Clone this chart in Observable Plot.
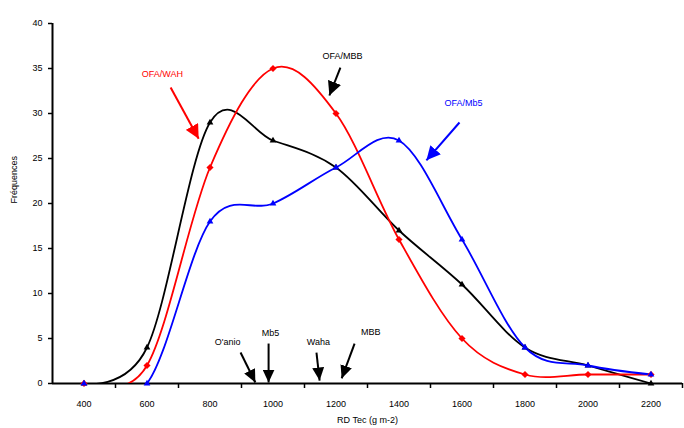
<!DOCTYPE html>
<html><head><meta charset="utf-8">
<script src="https://cdn.jsdelivr.net/npm/d3@7"></script>
<script src="https://cdn.jsdelivr.net/npm/@observablehq/plot@0.6"></script>
<style>body{margin:0;background:#fff;} #chart svg{display:block;}</style>
</head><body><div id="chart"></div>
<script>
// categories (RD Tec, g m-2)
const rdTec = [400, 600, 800, 1000, 1200, 1400, 1600, 1800, 2000, 2200];
// series (frequencies)
const ofaMBB = [0, 4, 29, 27, 24, 17, 11, 4, 2, 0];
const ofaWAH = [0, 2, 24, 35, 30, 16, 5, 1, 1, 1];
const ofaMb5 = [0, 0, 18, 20, 24, 27, 16, 4, 2, 1];
// ticks
const yTicks = [0, 5, 10, 15, 20, 25, 30, 35, 40];
const xTickLabels = [400, 600, 800, 1000, 1200, 1400, 1600, 1800, 2000, 2200];
const xTickMarks = [500, 700, 900, 1100, 1300, 1500, 1700, 1900, 2100, 2300];

// annotations (data units)
const seriesLabels = ["OFA/WAH", "OFA/MBB", "OFA/Mb5"];
const seriesLabelX = [649, 1221, 1605];
const seriesLabelY = [34.4, 36.4, 31.1];
const seriesColors = ["#ff0000", "#000000", "#0000ff"];
const seriesArrowX1 = [675, 1214, 1592];
const seriesArrowY1 = [32.9, 35.1, 29.0];
const seriesArrowX2 = [764, 1179, 1487];
const seriesArrowY2 = [27.2, 32.0, 24.8];

const siteLabels = ["O'anio", "Mb5", "Waha", "MBB"];
const siteLabelX = [856, 992, 1144, 1310];
const siteLabelY = [4.56, 5.56, 4.56, 5.67];
const siteArrowX1 = [897, 986, 1138, 1259];
const siteArrowY1 = [3.44, 4.44, 3.44, 4.44];
const siteArrowX2 = [944, 986, 1148, 1218];
const siteArrowY2 = [0.11, 0.11, 0.33, 0.56];

const series = [
  {name: "OFA/MBB", values: ofaMBB, color: "#000000", symbol: "triangle2"},
  {name: "OFA/WAH", values: ofaWAH, color: "#ff0000", symbol: "diamond2"},
  {name: "OFA/Mb5", values: ofaMb5, color: "#0000ff", symbol: "triangle2"}
];
const rows = series.flatMap(s => rdTec.map((x, i) => ({x, y: s.values[i], name: s.name, color: s.color, symbol: s.symbol})));

const seriesAnno = seriesLabels.map((t, i) => ({t, x: seriesLabelX[i], y: seriesLabelY[i], c: seriesColors[i],
  x1: seriesArrowX1[i], y1: seriesArrowY1[i], x2: seriesArrowX2[i], y2: seriesArrowY2[i]}));
const siteAnno = siteLabels.map((t, i) => ({t, x: siteLabelX[i], y: siteLabelY[i],
  x1: siteArrowX1[i], y1: siteArrowY1[i], x2: siteArrowX2[i], y2: siteArrowY2[i]}));

const head = (len, wid) => (color, context) => {
  const m = d3.create("svg:marker")
    .attr("viewBox", `0 ${-wid/2} ${len} ${wid}`)
    .attr("refX", len).attr("refY", 0)
    .attr("markerUnits", "userSpaceOnUse")
    .attr("markerWidth", len).attr("markerHeight", wid)
    .attr("orient", "auto")
    .attr("fill", color).attr("stroke", "none");
  m.append("path").attr("d", `M0,${-wid/2}L${len},0L0,${wid/2}Z`);
  return m.node();
};

const font = "'Liberation Sans', Arial, sans-serif";

const chart = Plot.plot({
  width: 684, height: 428,
  marginLeft: 52, marginRight: 2, marginTop: 23, marginBottom: 45,
  style: {fontFamily: font, fontSize: "9px", background: "#fff", color: "#000"},
  x: {domain: [300, 2300]},
  y: {domain: [0, 40]},
  marks: [
    Plot.axisY({ticks: yTicks, tickSize: 4, tickPadding: 6, label: null, strokeWidth: 1.5}),
    Plot.axisX({ticks: xTickLabels, tickSize: 0, tickPadding: 17, label: null, tickFormat: d => String(d)}),
    Plot.axisX({ticks: xTickMarks, tickSize: 5, tickFormat: () => "", label: null, strokeWidth: 1.5}),
    Plot.ruleX([300], {strokeWidth: 2}),
    Plot.ruleY([0], {strokeWidth: 2}),
    Plot.line(rows, {x: "x", y: "y", z: "name", stroke: "color", strokeWidth: 1.8, curve: "cardinal", clip: true}),
    Plot.dot(rows, {x: "x", y: "y", fill: "color", symbol: "symbol", r: 3.2}),
    Plot.link(seriesAnno, {x1: "x1", y1: "y1", x2: "x2", y2: "y2", stroke: "c", strokeWidth: 2, markerEnd: head(14, 14)}),
    Plot.text(seriesAnno, {x: "x", y: "y", text: "t", fill: "c", fontSize: 9}),
    Plot.link(siteAnno, {x1: "x1", y1: "y1", x2: "x2", y2: "y2", stroke: "#000", strokeWidth: 2, markerEnd: head(13, 12)}),
    Plot.text(siteAnno, {x: "x", y: "y", text: "t", fill: "#000", fontSize: 9}),
    Plot.text(["Fréquences"], {frameAnchor: "left", dx: -38, rotate: -90, fontSize: 9}),
    Plot.text(["RD Tec (g m-2)"], {frameAnchor: "bottom", dy: 39, fontSize: 9})
  ]
});
document.getElementById("chart").appendChild(chart);
</script>
</body></html>
